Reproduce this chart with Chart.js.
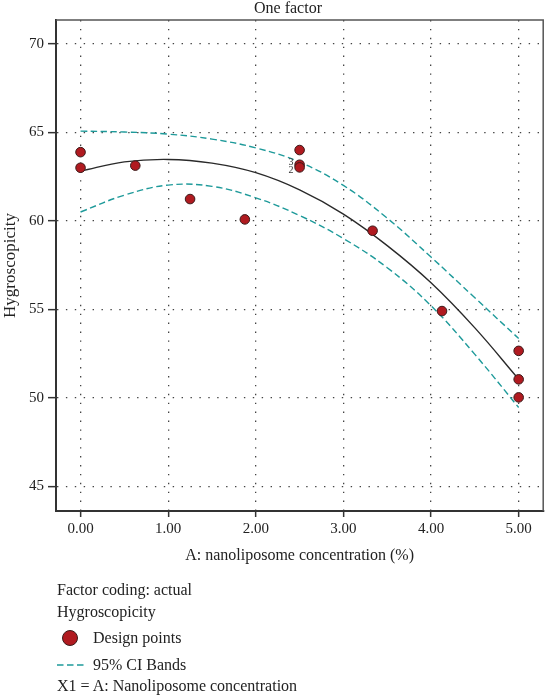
<!DOCTYPE html>
<html>
<head>
<meta charset="utf-8">
<script src="https://cdn.jsdelivr.net/npm/chart.js@4/dist/chart.umd.min.js"></script>
<style>
  body { margin: 0; background: #fff; }
  #wrap { position: relative; width: 549px; height: 696px; font-family: 'Liberation Serif', serif; color: #222; }
  #myChart { position: absolute; left: 0; top: 0; }
  .txt { position: absolute; font-size: 16px; line-height: 20px; white-space: nowrap; }
  .dot { position: absolute; width: 14px; height: 14px; border-radius: 50%; background: #b01a20; border: 1px solid #3a1a1a; }
  svg.dash { position: absolute; }
</style>
</head>
<body>
<div id="wrap">
  <canvas id="myChart" width="549" height="696"></canvas>
  <div class="txt" style="left:0;width:576px;text-align:center;top:-2px;">One factor</div>
  <div class="txt" style="left:57px;top:580px;">Factor coding: actual</div>
  <div class="txt" style="left:57px;top:602px;">Hygroscopicity</div>
  <div class="dot" style="left:62px;top:630px;"></div>
  <div class="txt" style="left:93px;top:628px;">Design points</div>
  <svg class="dash" style="left:57px;top:662px;" width="30" height="6">
    <line x1="0" y1="3" x2="28" y2="3" stroke="#1e9a9a" stroke-width="1.5" stroke-dasharray="6.5,3.5"/>
  </svg>
  <div class="txt" style="left:93px;top:655px;">95% CI Bands</div>
  <div class="txt" style="left:57px;top:676px;">X1 = A: Nanoliposome concentration</div>
</div>
<script>
// design points
const designX = [0, 0, 0.625, 1.25, 1.875, 2.5, 2.5, 2.5, 3.333, 4.125, 5, 5, 5];
const designY = [63.88, 63.0, 63.12, 61.23, 60.08, 64.0, 63.17, 63.02, 59.44, 54.9, 52.65, 51.04, 50.02];
// replicate counts shown next to points
const countIdx = [6, 7];
const countText = ['3', '2'];

// fitted curve and 95% CI bands, read every 0.5
const curveX = [0, 0.5, 1, 1.5, 2, 2.5, 3, 3.5, 4, 4.5, 5];
const fitY = [62.81, 63.33, 63.47, 63.26, 62.72, 61.75, 60.38, 58.6, 56.5, 53.95, 51.05];
const upperY = [65.07, 65.02, 64.9, 64.62, 64.12, 63.32, 62.0, 60.15, 57.95, 55.65, 53.35];
const lowerY = [60.5, 61.45, 62.02, 61.95, 61.3, 60.3, 59.0, 57.35, 55.2, 52.45, 49.45];

const yTicks = [45, 50, 55, 60, 65, 70];
const xTicks = [0, 1, 2, 3, 4, 5];

function toPoints(xs, ys) {
  return xs.map((x, i) => ({ x: x, y: ys[i] }));
}

const ctx = document.getElementById('myChart');
const FONT = 'Liberation Serif';

const boxPlugin = {
  id: 'box',
  afterDraw(chart) {
    const a = chart.chartArea;
    const c = chart.ctx;
    c.save();
    c.strokeStyle = '#555';
    c.lineWidth = 1.5;
    c.beginPath();
    c.moveTo(a.left, a.top);
    c.lineTo(a.right, a.top);
    c.lineTo(a.right, a.bottom);
    c.stroke();
    c.restore();
  }
};

const countPlugin = {
  id: 'counts',
  afterDatasetsDraw(chart) {
    const meta = chart.getDatasetMeta(0);
    const c = chart.ctx;
    c.save();
    c.font = '10px ' + FONT;
    c.fillStyle = '#333';
    c.textAlign = 'right';
    c.textBaseline = 'middle';
    countIdx.forEach((idx, i) => {
      const el = meta.data[idx];
      c.fillText(countText[i], el.x - 6, el.y + (i === 0 ? -2 : 3));
    });
    c.restore();
  }
};

const bandStyle = {
  showLine: true, fill: false, pointRadius: 0, borderColor: '#1e9a9a',
  borderWidth: 1.4, borderDash: [6.5, 3.5], tension: 0.4, order: 2
};

new Chart(ctx, {
  type: 'scatter',
  data: {
    datasets: [
      {
        label: 'Design points',
        data: toPoints(designX, designY),
        backgroundColor: '#b01a20',
        borderColor: '#3a1a1a',
        borderWidth: 1,
        pointRadius: 4.8,
        order: 0
      },
      {
        label: 'Fit',
        data: toPoints(curveX, fitY),
        showLine: true, fill: false, pointRadius: 0,
        borderColor: '#2a2a2a', borderWidth: 1.4, tension: 0.4, order: 1
      },
      Object.assign({ label: '95% CI upper', data: toPoints(curveX, upperY) }, bandStyle),
      Object.assign({ label: '95% CI lower', data: toPoints(curveX, lowerY) }, bandStyle)
    ]
  },
  options: {
    responsive: false,
    animation: false,
    layout: { padding: { top: 20, right: 1, bottom: 130, left: 0 } },
    plugins: {
      legend: { display: false },
      tooltip: { enabled: false },
      title: { display: false }
    },
    scales: {
      x: {
        type: 'linear',
        min: -0.28,
        max: 5.28,
        afterFit(scale) { scale.height = 55; },
        afterBuildTicks(scale) { scale.ticks = xTicks.map(v => ({ value: v })); },
        ticks: {
          font: { family: FONT, size: 15 }, color: '#222', padding: 3,
          callback: v => v.toFixed(2)
        },
        grid: {
          color: '#444', lineWidth: 1.3,
          tickColor: '#333', tickWidth: 1.5, tickLength: 6, tickBorderDash: []
        },
        border: { color: '#333', width: 2, dash: [1.4, 7.5] },
        title: {
          display: true, text: 'A: nanoliposome concentration (%)',
          font: { family: FONT, size: 16 }, color: '#222', padding: { top: 0, bottom: 1 }
        }
      },
      y: {
        min: 43.6,
        max: 71.35,
        afterFit(scale) { scale.width = 56; },
        afterBuildTicks(scale) { scale.ticks = yTicks.map(v => ({ value: v })); },
        ticks: { font: { family: FONT, size: 15 }, color: '#222', padding: 4 },
        grid: {
          color: '#444', lineWidth: 1.3,
          tickColor: '#333', tickWidth: 1.5, tickLength: 8, tickBorderDash: []
        },
        border: { color: '#333', width: 2, dash: [1.4, 7.5] },
        title: {
          display: true, text: 'Hygroscopicity',
          font: { family: FONT, size: 17, lineHeight: 1.1 }, color: '#222', padding: { top: 1, bottom: 0 }
        }
      }
    }
  },
  plugins: [boxPlugin, countPlugin]
});
</script>
</body>
</html>
